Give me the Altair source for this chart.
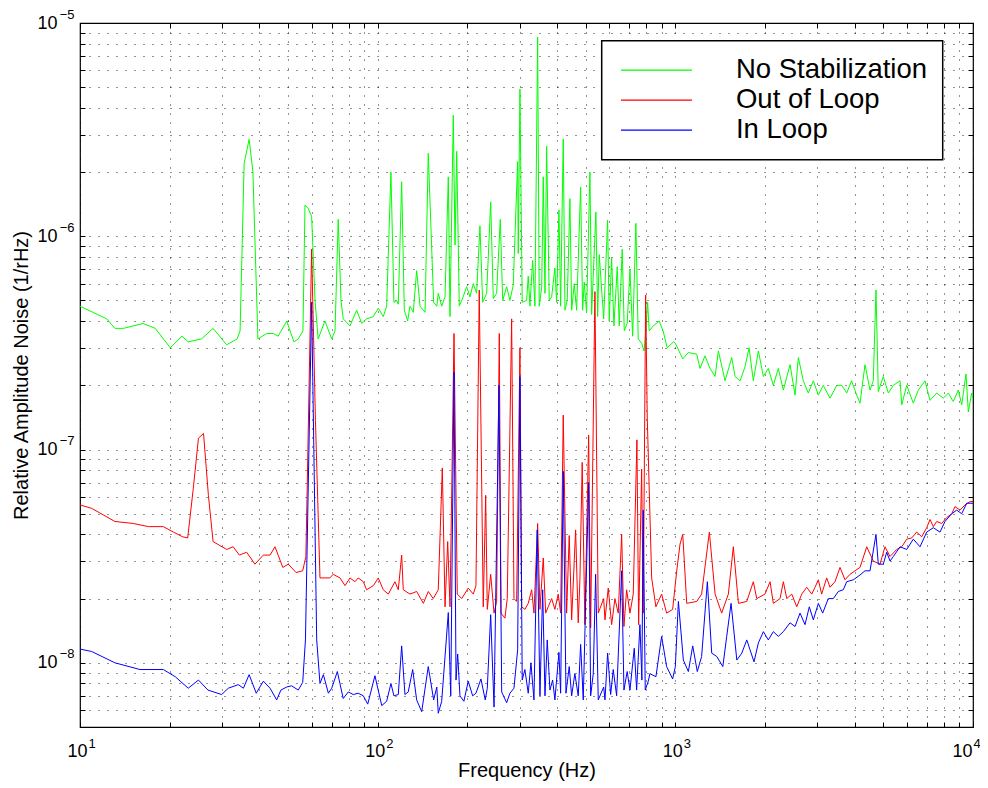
import altair as alt
import pandas as pd

series_names = ["No Stabilization", "Out of Loop", "In Loop"]
series_colors = ["#00ff00", "#ff0000", "#0000ff"]

# (frequency Hz, relative amplitude noise 1/rHz)
green_points = [
    (10, 4.7e-7), (12.3, 4.1e-7), (13.1, 3.7e-7), (14.0, 3.7e-7), (16.3, 3.9e-7), (17.9, 3.7e-7),
    (20.1, 3.0e-7), (22.0, 3.4e-7), (23.1, 3.2e-7), (25.6, 3.3e-7), (28.0, 3.7e-7), (31.1, 3.1e-7),
    (33.7, 3.3e-7), (34.5, 3.6e-7), (35.6, 2.2e-6), (37.0, 2.85e-6), (38.1, 2.0e-6), (39.6, 3.3e-7),
    (42.4, 3.5e-7), (44.6, 3.5e-7), (46.3, 3.4e-7), (49.5, 4.0e-7), (52.3, 3.2e-7), (54.1, 3.3e-7),
    (56.1, 3.6e-7), (57.0, 1.4e-6), (58.4, 1.35e-6), (60.0, 1.24e-6), (61.6, 5.0e-7), (63.1, 3.3e-7),
    (66.5, 4.0e-7), (70.1, 3.3e-7), (71.9, 3.6e-7), (73.7, 1.2e-6), (75.3, 5.0e-7), (76.6, 4.1e-7),
    (80.7, 3.8e-7), (85.0, 4.5e-7), (88.4, 3.9e-7), (91.8, 4.1e-7), (96.7, 4.2e-7), (100.5, 4.6e-7),
    (104.4, 4.2e-7), (107.2, 4.7e-7), (110.8, 2.0e-6), (113.4, 4.9e-7), (115.8, 5.0e-7), (117.3, 4.8e-7),
    (120.4, 1.8e-6), (122.9, 4.5e-7), (126.1, 4.0e-7), (128.4, 4.7e-7), (131.7, 4.4e-7), (135.2, 6.9e-7),
    (138.8, 4.7e-7), (144.3, 4.4e-7), (147.9, 2.45e-6), (154.2, 4.9e-7), (158.0, 4.7e-7), (159.8, 5.4e-7),
    (164.1, 4.7e-7), (168.4, 5.2e-7), (172.7, 1.9e-6), (175.0, 4.2e-7), (179.5, 3.7e-6), (181.9, 9.1e-7),
    (184.3, 2.5e-6), (188.0, 4.7e-7), (193.8, 5.2e-7), (199.0, 5.8e-7), (204.2, 5.2e-7), (209.5, 6.0e-7),
    (215.0, 5.4e-7), (220.6, 1.12e-6), (225.3, 4.9e-7), (232.4, 5.4e-7), (239.7, 1.45e-6), (244.6, 5.1e-7),
    (251, 5.4e-7), (258.2, 1.2e-6), (263, 5.0e-7), (271.2, 5.8e-7), (278.2, 5.0e-7), (285.4, 5.9e-7),
    (295.3, 2.24e-6), (296.7, 8.3e-7), (300.6, 4.9e-6), (305.9, 4.9e-7), (316.5, 5.0e-7), (320.5, 6.5e-7),
    (324.7, 4.7e-7), (331.6, 7.7e-7), (337.5, 4.7e-7), (344.7, 8.6e-6), (349.0, 4.7e-7), (355.7, 5.8e-7),
    (360.0, 1.9e-6), (364.8, 5.4e-7), (369.5, 2.65e-6), (377.1, 5.0e-7), (384.2, 5.2e-7), (393.9, 7.1e-7),
    (399.2, 4.9e-7), (406.4, 1.33e-6), (411.8, 4.7e-7), (420.2, 2.86e-6), (425.8, 4.5e-7), (433.4, 5.0e-7),
    (442.5, 1.5e-6), (448.4, 4.5e-7), (457.6, 6.0e-7), (465.9, 4.5e-7), (480.7, 1.7e-6), (488.2, 4.5e-7),
    (494.2, 6.1e-7), (503.4, 4.4e-7), (516.5, 2.0e-6), (523.4, 4.3e-7), (541, 1.3e-6), (548.3, 4.2e-7),
    (555.2, 8.2e-7), (574.4, 4.1e-7), (592.3, 1.19e-6), (599.7, 4.0e-7), (611, 7.9e-7), (621.9, 3.8e-7),
    (638, 7.2e-7), (648, 3.8e-7), (663, 8.7e-7), (673.7, 3.6e-7), (689, 3.9e-7), (704, 7.0e-7),
    (718.8, 3.4e-7), (737, 1.15e-6), (750.5, 3.3e-7), (770.6, 3.15e-7), (785, 2.9e-7), (796.5, 3.6e-7),
    (807.2, 4.9e-7), (817, 3.6e-7), (843, 3.8e-7), (882.8, 4.0e-7), (909.8, 3.6e-7), (939, 3.0e-7),
    (987, 3.2e-7), (1000, 3.15e-7), (1059, 2.66e-7), (1106, 2.85e-7), (1180, 2.8e-7), (1210, 2.4e-7),
    (1258, 2.75e-7), (1308, 2.4e-7), (1360, 2.2e-7), (1395, 2.9e-7), (1469, 2.1e-7), (1547, 2.7e-7),
    (1587, 2.2e-7), (1650, 2.1e-7), (1715, 2.45e-7), (1769, 3.0e-7), (1828, 2.1e-7), (1901, 2.9e-7),
    (1976, 2.2e-7), (2053, 2.4e-7), (2134, 2.0e-7), (2218, 2.4e-7), (2306, 1.9e-7), (2429, 2.5e-7),
    (2524, 1.8e-7), (2590, 2.7e-7), (2691, 2.1e-7), (2797, 1.84e-7), (2908, 2.1e-7), (3023, 1.8e-7),
    (3141, 2.0e-7), (3309, 1.74e-7), (3485, 2.0e-7), (3623, 2.0e-7), (3765, 1.84e-7), (3910, 2.1e-7),
    (4067, 1.8e-7), (4173, 1.65e-7), (4337, 2.5e-7), (4509, 1.9e-7), (4624, 2.1e-7), (4721, 5.6e-7),
    (4807, 1.87e-7), (4996, 2.2e-7), (5194, 1.84e-7), (5399, 2.0e-7), (5687, 2.1e-7), (5763, 1.62e-7),
    (5988, 2.0e-7), (6302, 1.65e-7), (6551, 1.9e-7), (6898, 2.1e-7), (7171, 1.7e-7), (7552, 1.84e-7),
    (7948, 1.74e-7), (8262, 1.84e-7), (8585, 1.68e-7), (8925, 1.9e-7), (9164, 1.62e-7), (9473, 2.26e-7),
    (9644, 1.5e-7), (9900, 1.84e-7), (10000, 1.74e-7),
]

red_points = [
    (10, 5.5e-8), (10.94, 5.3e-8), (13.1, 4.6e-8), (15.1, 4.5e-8), (17.0, 4.35e-8), (19.05, 4.35e-8),
    (20.6, 4.1e-8), (22.1, 3.9e-8), (23.0, 3.85e-8), (24.0, 6.5e-8), (25.0, 1.13e-7), (26.0, 1.19e-7),
    (27.0, 6.1e-8), (28.0, 3.7e-8), (31.1, 3.4e-8), (32.7, 3.5e-8), (34.3, 3.2e-8), (36.3, 3.3e-8),
    (38.7, 2.9e-8), (41.3, 3.2e-8), (43.5, 3.2e-8), (45.2, 3.5e-8), (48.0, 2.8e-8), (50.1, 2.9e-8),
    (53.2, 2.65e-8), (56.0, 2.7e-8), (57.4, 3.15e-8), (60.0, 8.7e-7), (61.8, 1.37e-7), (64.0, 2.5e-8),
    (69.1, 2.5e-8), (70.9, 2.6e-8), (74.7, 2.5e-8), (77.7, 2.3e-8), (80.7, 2.5e-8), (83.9, 2.4e-8),
    (86.0, 2.5e-8), (89.5, 2.4e-8), (91.8, 2.2e-8), (96.7, 2.3e-8), (100.5, 2.5e-8), (104.4, 2.2e-8),
    (108.6, 2.1e-8), (114.3, 2.4e-8), (117.3, 2.2e-8), (120.4, 3.2e-8), (121.9, 2.2e-8), (128.4, 2.1e-8),
    (135.2, 2.16e-8), (142.4, 1.9e-8), (147.9, 2.16e-8), (153.7, 2.0e-8), (159.8, 2.2e-8), (164.9, 8.2e-8),
    (168.4, 1.83e-8), (171.9, 3.7e-8), (175.0, 1.83e-8), (180.5, 3.5e-7), (185.1, 2.1e-8), (191.6, 2.0e-8),
    (201.5, 2.24e-8), (209.5, 2.1e-8), (213.9, 2.3e-8), (219.4, 5.6e-7), (226.3, 1.83e-8), (230.6, 6.1e-8),
    (233.5, 1.78e-8), (239.7, 2.6e-8), (246, 1.71e-8), (251, 1.94e-8), (256.2, 3.5e-7), (259.6, 1.71e-8),
    (267.6, 1.62e-8), (272.5, 2.0e-8), (281.9, 4.1e-7), (287, 2.0e-8), (293, 1.94e-8), (300.6, 3.0e-7),
    (304.6, 1.83e-8), (312.3, 1.78e-8), (320.5, 1.9e-8), (329.1, 2.2e-8), (335, 1.71e-8), (344.7, 4.5e-8),
    (350.9, 1.78e-8), (360.0, 3.1e-8), (366.7, 1.71e-8), (374.1, 1.83e-8), (384.2, 2.0e-8), (393.9, 1.78e-8),
    (404.2, 2.1e-8), (411.8, 1.71e-8), (420.2, 1.45e-7), (431.3, 1.71e-8), (440.1, 3.95e-8), (448.4, 1.59e-8),
    (462.4, 4.2e-8), (471.8, 1.54e-8), (478, 2.45e-8), (486.5, 8.7e-8), (496.7, 1.51e-8), (511.4, 1.17e-7),
    (519.4, 1.46e-8), (536.8, 5.5e-7), (550.9, 1.71e-8), (574.4, 2.0e-8), (580.3, 1.59e-8), (595.1, 2.24e-8),
    (611, 1.51e-8), (626.7, 2.0e-8), (643, 1.71e-8), (660.2, 4.0e-8), (672, 1.48e-8), (686, 2.2e-8),
    (704, 1.71e-8), (722.1, 2.1e-8), (743, 1.11e-7), (752.8, 1.51e-8), (770.6, 8.1e-8), (780.1, 1.71e-8),
    (794.8, 5.3e-7), (804.7, 1.42e-7), (832.7, 2.5e-8), (860.4, 1.83e-8), (899.4, 2.1e-8), (934.9, 1.71e-8),
    (979.5, 1.78e-8), (1011, 2.7e-8), (1037, 3.6e-8), (1059, 4.0e-8), (1092, 1.9e-8), (1180, 1.94e-8),
    (1225.5, 2.1e-8), (1301, 4.1e-8), (1360, 2.1e-8), (1431, 1.71e-8), (1507, 2.1e-8), (1566, 3.5e-8),
    (1629, 1.9e-8), (1738, 1.94e-8), (1828, 2.4e-8), (1877, 2.0e-8), (2001, 2.1e-8), (2081, 2.4e-8),
    (2134, 1.9e-8), (2248, 2.0e-8), (2306, 2.4e-8), (2368, 2.0e-8), (2461, 2.1e-8), (2558, 1.83e-8),
    (2659, 2.1e-8), (2763, 2.26e-8), (2872, 2.1e-8), (2946, 2.26e-8), (3023, 2.45e-8), (3101, 2.1e-8),
    (3225, 2.5e-8), (3309, 2.26e-8), (3439, 2.4e-8), (3575, 2.8e-8), (3715, 2.45e-8), (3863, 2.6e-8),
    (4014, 2.7e-8), (4173, 2.8e-8), (4395, 3.5e-8), (4624, 3.0e-8), (4871, 2.9e-8), (5062, 3.5e-8),
    (5263, 3.15e-8), (5543, 3.4e-8), (5763, 3.5e-8), (5988, 3.8e-8), (6224, 3.85e-8), (6470, 4.1e-8),
    (6725, 3.9e-8), (6990, 4.3e-8), (7171, 4.7e-8), (7357, 4.35e-8), (7552, 4.6e-8), (7851, 4.5e-8),
    (8160, 4.8e-8), (8484, 5.0e-8), (8699, 5.4e-8), (9043, 5.2e-8), (9400, 5.5e-8), (9772, 5.7e-8),
    (10000, 5.7e-8),
]

blue_points = [
    (10, 1.16e-8), (10.94, 1.13e-8), (13.1, 1.0e-8), (15.9, 9.3e-9), (19.05, 9.3e-9), (20.9, 8.6e-9),
    (23.1, 7.6e-9), (25.0, 8.3e-9), (26.9, 7.45e-9), (29.9, 7.1e-9), (31.5, 7.6e-9), (34.0, 7.9e-9),
    (35.4, 7.6e-9), (37.0, 8.8e-9), (39.1, 7.2e-9), (41.3, 8.2e-9), (43.5, 7.6e-9), (45.8, 6.7e-9),
    (47.3, 7.45e-9), (49.5, 7.7e-9), (51.4, 7.8e-9), (54.1, 7.45e-9), (56.0, 8.1e-9), (57.2, 1.28e-8),
    (60.0, 4.9e-7), (62.4, 1.28e-8), (64.0, 8.0e-9), (65.7, 8.8e-9), (68.3, 7.2e-9), (70.1, 7.6e-9),
    (73.2, 9.1e-9), (76.6, 6.8e-9), (79.7, 7.3e-9), (82.8, 7.1e-9), (86.0, 7.2e-9), (89.5, 7.0e-9),
    (92.6, 6.4e-9), (97.9, 8.7e-9), (103.2, 6.3e-9), (107.2, 6.6e-9), (110.8, 8.0e-9), (113.4, 7.0e-9),
    (117.3, 7.1e-9), (120.4, 1.2e-8), (123.5, 7.1e-9), (126.7, 7.3e-9), (131.1, 9.3e-9), (135.2, 6.7e-9),
    (140.6, 5.9e-9), (147.9, 9.6e-9), (154.2, 6.7e-9), (158.0, 7.7e-9), (159.8, 5.8e-9), (164.1, 6.6e-9),
    (172.7, 1.72e-8), (176.0, 7.0e-9), (180.5, 2.3e-7), (183.3, 8.3e-9), (185.7, 1.1e-8), (189.0, 7.0e-9),
    (194.8, 6.6e-9), (201.5, 8.2e-9), (208.5, 7.0e-9), (213.9, 7.2e-9), (222.3, 8.4e-9), (229.8, 6.7e-9),
    (233.5, 7.6e-9), (239.7, 1.68e-8), (246, 6.2e-9), (255.6, 2.0e-7), (261, 7.3e-9), (271.2, 6.5e-9),
    (278.2, 7.2e-9), (287, 7.6e-9), (295.3, 1.15e-8), (300.6, 2.2e-7), (305.9, 8.3e-9), (312.3, 9.3e-9),
    (320.5, 7.2e-9), (327.3, 1.0e-8), (335, 6.7e-9), (343.6, 4.2e-8), (350.9, 7.0e-9), (358.4, 2.2e-8),
    (364.8, 7.0e-9), (371.2, 1.28e-8), (379.1, 7.45e-9), (387.1, 8.3e-9), (393.9, 6.7e-9), (406.4, 1.12e-8),
    (411.8, 7.2e-9), (420.2, 7.9e-8), (429.1, 7.2e-9), (440.1, 9.6e-9), (448.4, 7.0e-9), (459.7, 8.9e-9),
    (471.8, 7.0e-9), (480.7, 1.22e-8), (490.5, 6.7e-9), (511.4, 7.0e-8), (519.4, 7.0e-9), (530, 8.9e-9),
    (539.9, 2.6e-8), (550.9, 6.7e-9), (574.4, 7.7e-9), (580.3, 6.7e-9), (592.3, 1.11e-8), (606.3, 7.1e-9),
    (618.6, 9.3e-9), (635, 7.0e-9), (660.2, 2.7e-8), (672, 7.45e-9), (689, 9.1e-9), (704, 7.45e-9),
    (727.8, 1.17e-8), (741.2, 7.45e-9), (760.4, 1.51e-8), (772, 8.3e-9), (780.1, 5.2e-8), (792.3, 7.45e-9),
    (811, 8.2e-9), (821.7, 8.9e-9), (860.4, 8.6e-9), (899.4, 1.33e-8), (934.9, 9.6e-9), (979.5, 8.4e-9),
    (1000, 9.6e-9), (1024, 1.94e-8), (1064, 1.03e-8), (1106, 9.1e-9), (1144, 1.2e-8), (1185, 9.1e-9),
    (1225.5, 1.07e-8), (1281, 2.4e-8), (1325, 1.11e-8), (1378, 1.07e-8), (1444, 9.6e-9), (1488, 1.33e-8),
    (1539, 1.9e-8), (1609, 1.03e-8), (1672, 1.11e-8), (1738, 1.28e-8), (1838, 1.01e-8), (1901, 1.24e-8),
    (1976, 1.4e-8), (2053, 1.28e-8), (2134, 1.4e-8), (2218, 1.33e-8), (2306, 1.4e-8), (2429, 1.54e-8),
    (2524, 1.48e-8), (2624, 1.71e-8), (2727, 1.51e-8), (2819, 1.83e-8), (2908, 1.59e-8), (3023, 1.9e-8),
    (3126, 1.71e-8), (3265, 2.0e-8), (3394, 2.0e-8), (3528, 2.16e-8), (3667, 2.2e-8), (3765, 2.4e-8),
    (3961, 2.45e-8), (4173, 2.58e-8), (4337, 2.7e-8), (4509, 2.7e-8), (4721, 4.0e-8), (4807, 2.9e-8),
    (4996, 2.9e-8), (5130, 3.3e-8), (5263, 3.0e-8), (5399, 3.15e-8), (5687, 3.5e-8), (5988, 3.4e-8),
    (6302, 3.8e-8), (6638, 3.5e-8), (6990, 4.1e-8), (7357, 4.3e-8), (7748, 4.1e-8), (8053, 4.6e-8),
    (8484, 5.0e-8), (8815, 5.2e-8), (9164, 5.0e-8), (9526, 5.6e-8), (10000, 5.6e-8),
]

x_ticks = [10, 20, 30, 40, 50, 60, 70, 80, 90,
           100, 200, 300, 400, 500, 600, 700, 800, 900,
           1000, 2000, 3000, 4000, 5000, 6000, 7000, 8000, 9000, 10000]
x_decades = [10, 100, 1000, 10000]
x_exponents = ["1", "2", "3", "4"]

y_ticks = [6e-9, 7e-9, 8e-9, 9e-9,
           1e-8, 2e-8, 3e-8, 4e-8, 5e-8, 6e-8, 7e-8, 8e-8, 9e-8,
           1e-7, 2e-7, 3e-7, 4e-7, 5e-7, 6e-7, 7e-7, 8e-7, 9e-7,
           1e-6, 2e-6, 3e-6, 4e-6, 5e-6, 6e-6, 7e-6, 8e-6, 9e-6, 1e-5]
y_decades = [1e-8, 1e-7, 1e-6, 1e-5]
y_exponents = ["\u22128", "\u22127", "\u22126", "\u22125"]

FONT = "Liberation Sans"


def label_expr(values, texts):
    parts = [f"datum.value == {v!r} ? '{t}'" for v, t in zip(values, texts)]
    return " : ".join(parts) + " : ''"


def frame(points, name):
    return pd.DataFrame({"freq": [p[0] for p in points],
                         "amp": [p[1] for p in points],
                         "series": name})


def shift(normal, last):
    return {"condition": {"test": "datum.value == 10000", "value": last}, "value": normal}


x_scale = alt.Scale(type="log", domain=[10, 10000], nice=False)
y_scale = alt.Scale(type="log", domain=[5e-9, 1e-5], nice=False)
color_scale = alt.Scale(domain=series_names, range=series_colors)

legend = alt.Legend(
    title=None, orient="none", legendX=521.7, legendY=17.7, direction="vertical",
    symbolType="stroke", symbolSize=5041, symbolStrokeWidth=1.2, symbolOffset=3.5,
    labelFont=FONT, labelFontSize=27.5, labelColor="black", labelOffset=43, labelLimit=500,
    padding=14.75, rowPadding=0, clipHeight=29.5,
    strokeColor="black", fillColor="white",
)

grid_common = dict(grid=True, gridColor="black", gridDash=[1, 8], gridWidth=1, gridOpacity=0.85)

# main axes: ticks inside, dotted grid, base "10" of the decade labels
x_axis_main = alt.Axis(
    orient="bottom", values=x_ticks, labelExpr=label_expr(x_decades, ["10"] * 4),
    title="Frequency (Hz)", domain=False, ticks=True, tickSize=5, tickColor="black",
    offset=-5, labelPadding=15, labelOffset=shift(-3, -11),
    labelFont=FONT, labelFontSize=18, labelColor="black",
    labelOverlap=False, labelFlush=False, titleFont=FONT, titleFontSize=20,
    titleFontWeight="normal", titleColor="black", titleY=48, titleBaseline="middle",
    **grid_common,
)
y_axis_main = alt.Axis(
    orient="left", values=y_ticks, labelExpr=label_expr(y_decades, ["10"] * 4),
    title="Relative Amplitude Noise (1/rHz)", domain=False, ticks=True, tickSize=5,
    tickColor="black", offset=-5, labelPadding=23, labelFont=FONT, labelFontSize=18,
    labelColor="black", labelOverlap=False, labelFlush=False, titleFont=FONT,
    titleFontSize=20, titleFontWeight="normal", titleColor="black", titleAngle=270,
    titleX=-64, titleY=352, titleAlign="center", titleBaseline="middle",
    **grid_common,
)
# top / right ticks of the box
x_axis_top = alt.Axis(orient="top", values=x_ticks, labels=False, grid=False, domain=False,
                      ticks=True, tickSize=5, tickColor="black", offset=-5, title=None)
y_axis_right = alt.Axis(orient="right", values=y_ticks, labels=False, grid=False, domain=False,
                        ticks=True, tickSize=5, tickColor="black", offset=-5, title=None)
# exponents of the decade labels
x_axis_exp = alt.Axis(
    orient="bottom", values=x_decades, labelExpr=label_expr(x_decades, x_exponents),
    ticks=False, tickSize=0, grid=False, domain=False, title=None,
    labelAlign="left", labelBaseline="top", labelPadding=10, labelOffset=shift(8, 0),
    labelFont=FONT, labelFontSize=13, labelColor="black", labelOverlap=False, labelFlush=False,
)
y_axis_exp = alt.Axis(
    orient="left", values=y_decades, labelExpr=label_expr(y_decades, y_exponents),
    ticks=False, tickSize=0, grid=False, domain=False, title=None,
    labelAlign="right", labelOffset=-9, labelPadding=6,
    labelFont=FONT, labelFontSize=13, labelColor="black", labelOverlap=False, labelFlush=False,
)


def series_layer(points, name, x_axis, y_axis):
    return alt.Chart(frame(points, name)).mark_line(strokeWidth=1, clip=True).encode(
        x=alt.X("freq:Q", scale=x_scale, axis=x_axis),
        y=alt.Y("amp:Q", scale=y_scale, axis=y_axis),
        color=alt.Color("series:N", scale=color_scale, legend=legend),
        order=alt.Order("freq:Q"),
    )


chart = alt.layer(
    series_layer(green_points, series_names[0], x_axis_main, y_axis_main),
    series_layer(red_points, series_names[1], x_axis_top, y_axis_right),
    series_layer(blue_points, series_names[2], x_axis_exp, y_axis_exp),
).resolve_axis(x="independent", y="independent").properties(
    width=893, height=704,
    autosize=alt.AutoSizeParams(type="none"),
    padding={"left": 72, "top": 15, "right": 7, "bottom": 54},
    background="white",
).configure_view(stroke="black", strokeWidth=1.2, fill="white").configure_legend(strokeWidth=1.5)

chart.save("out.html", embed_options={"renderer": "svg", "actions": False})
